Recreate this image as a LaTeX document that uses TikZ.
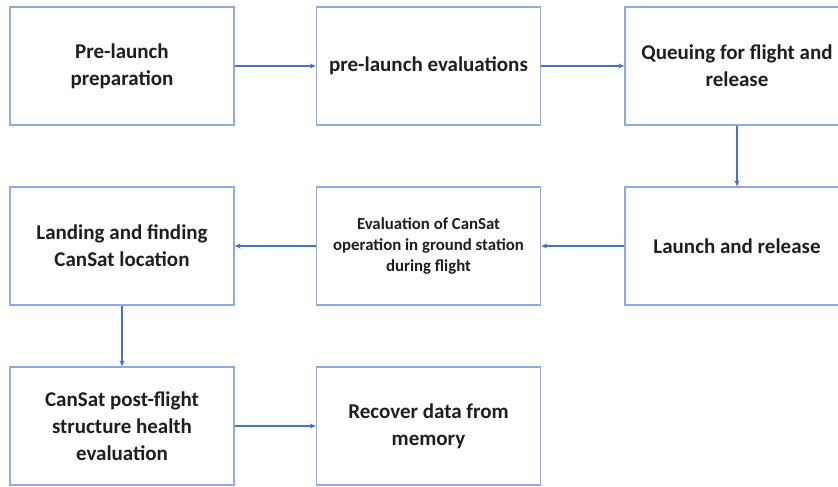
\documentclass[tikz,border=0pt]{standalone}
\usepackage{fontspec}
\setmainfont{Carlito}
\usetikzlibrary{arrows.meta}
\definecolor{boxline}{RGB}{143,170,220}
\definecolor{arrowc}{RGB}{68,114,196}
\definecolor{txt}{RGB}{30,30,30}
\tikzset{
  stepbox/.style={draw=boxline, line width=1.4pt, minimum width=224pt, minimum height=118pt, inner sep=0pt, align=center, text=txt, font=\bfseries\fontsize{21}{27}\selectfont},
  smallbox/.style={stepbox, font=\bfseries\fontsize{16.8}{21}\selectfont},
  flow/.style={draw=arrowc, line width=1.3pt, -{Stealth[length=6pt,width=5pt]}}
}
\begin{document}
\begin{tikzpicture}[x=1pt,y=-1pt]
\useasboundingbox (0,0) rectangle (838,487);
\clip (0,0) rectangle (838,487);
\node[stepbox] (b1) at (122,66) {Pre-launch\\preparation};
\node[stepbox] (b2) at (428.5,66) {pre-launch evaluations};
\node[stepbox] (b3) at (737,66) {Queuing for flight and\\release};
\node[stepbox] (b4) at (122,246) {Landing and finding\\CanSat location};
\node[smallbox] (b5) at (428.5,246) {Evaluation of CanSat\\operation in ground station\\during flight};
\node[stepbox] (b6) at (737,246) {Launch and release};
\node[stepbox] (b7) at (122,426) {CanSat post-flight\\structure health\\evaluation};
\node[stepbox] (b8) at (428.5,426) {Recover data from\\memory};
\draw[flow] (b1) -- (b2);
\draw[flow] (b2) -- (b3);
\draw[flow] (b3) -- (b6);
\draw[flow] (b6) -- (b5);
\draw[flow] (b5) -- (b4);
\draw[flow] (b4) -- (b7);
\draw[flow] (b7) -- (b8);
\end{tikzpicture}
\end{document}
